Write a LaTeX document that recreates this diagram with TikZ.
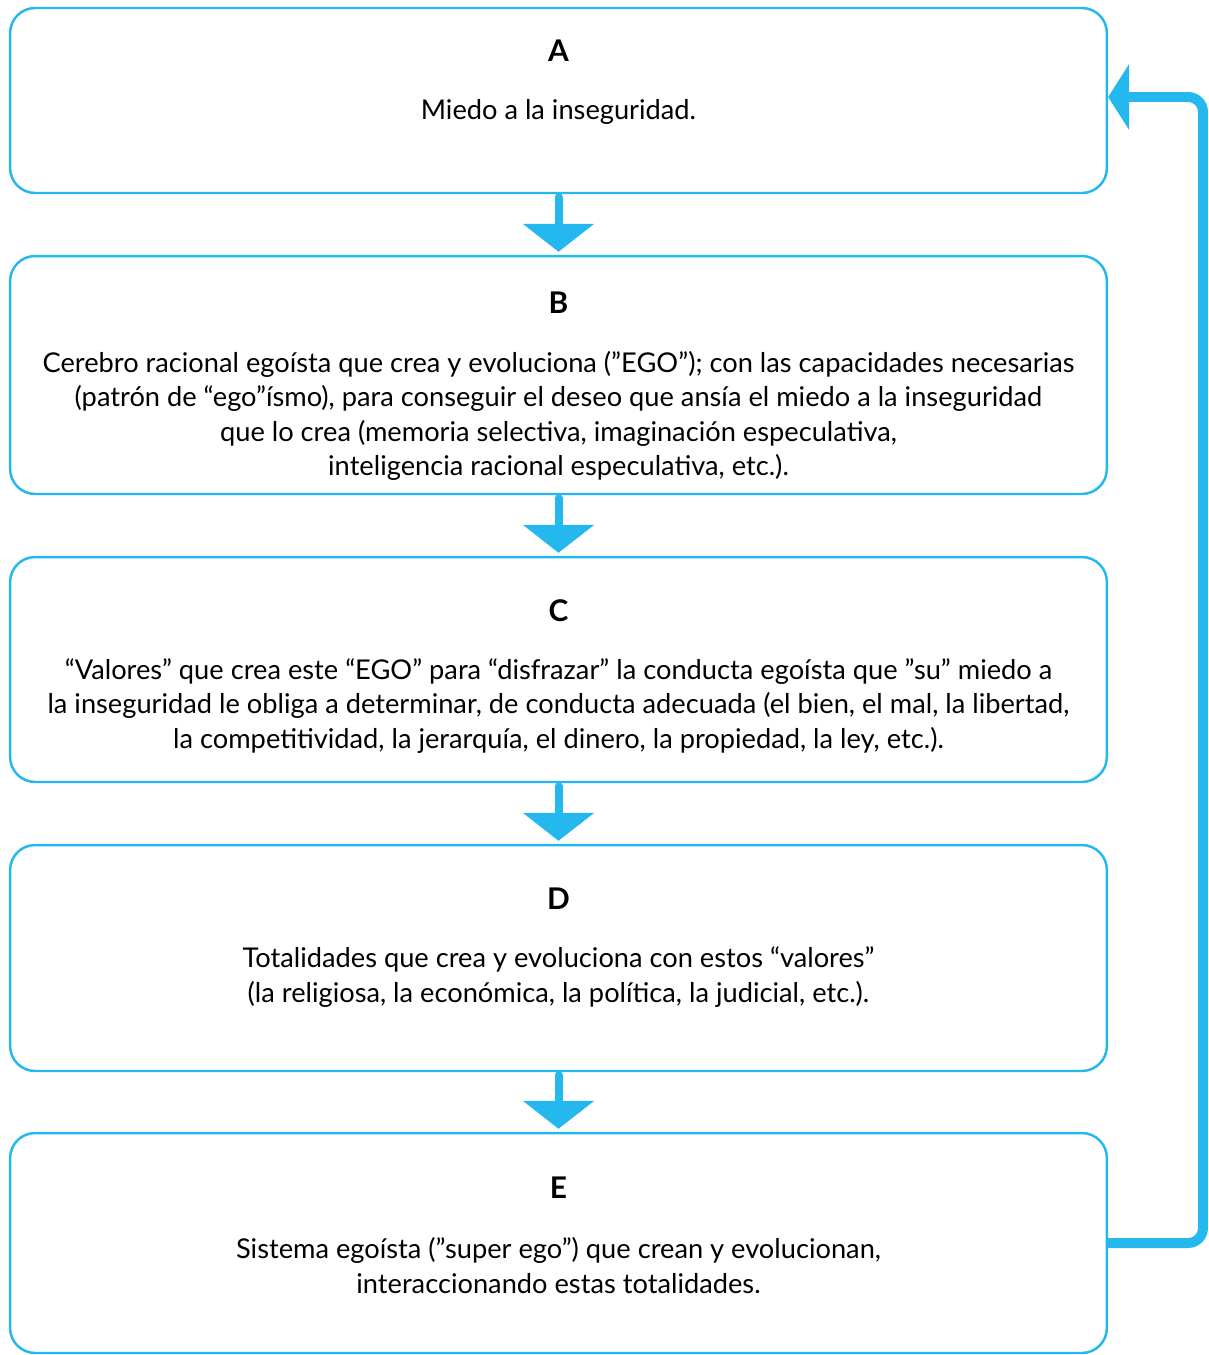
\documentclass[tikz,border=0pt]{standalone}
\usepackage{fontspec}
\setmainfont{Lato}
\usetikzlibrary{arrows.meta, positioning, calc}
\definecolor{celeste}{RGB}{36,184,238}

\tikzset{
    caja/.style={draw=celeste, line width=1.4pt, rounded corners=0.5cm,
        minimum width=21.94cm, inner sep=0pt},
    titulo/.style={font=\fontsize{17}{19.6}\selectfont\bfseries},
    texto/.style={font=\fontsize{15.5}{19.6}\selectfont, align=center},
    flecha/.style={draw=celeste, line width=0.16cm, line cap=round,
        -{Triangle[width=1.4cm, length=0.56cm]}, shorten <=0.06cm, shorten >=0.06cm},
    retorno/.style={draw=celeste, line width=0.2cm, rounded corners=0.3cm,
        -{Triangle[width=1.3cm, length=0.42cm]}}
}

\begin{document}
\begin{tikzpicture}[x=0.02cm, y=-0.02cm]
        \useasboundingbox (0,0) rectangle (1209,1355);

        % cajas
        \node[caja, minimum height=3.7cm] (boxA) at (558.5,100.5) {};
        \node[caja, minimum height=4.76cm] (boxB) at (558.5,375) {};
        \node[caja, minimum height=4.5cm] (boxC) at (558.5,669.5) {};
        \node[caja, minimum height=4.52cm] (boxD) at (558.5,958) {};
        \node[caja, minimum height=4.4cm] (boxE) at (558.5,1243) {};

        % titulos
        \node[titulo] (tA) at (558.5,51) {A};
        \node[titulo] (tB) at (558.5,303) {B};
        \node[titulo] (tC) at (558.5,611) {C};
        \node[titulo] (tD) at (558.5,899) {D};
        \node[titulo] (tE) at (558.5,1188) {E};

        % textos
        \node[texto] (xA) at (558.5,112) {Miedo a la inseguridad.};
        \node[texto] (xB) at (558.5,416) {Cerebro racional egoísta que crea y evoluciona (”EGO”); con las capacidades necesarias\\
            (patrón de “ego”ísmo), para conseguir el deseo que ansía el miedo a la inseguridad\\
            que lo crea (memoria selectiva, imaginación especulativa,\\
            inteligencia racional especulativa, etc.).};
        \node[texto] (xC) at (558.5,706) {“Valores” que crea este “EGO” para “disfrazar” la conducta egoísta que ”su” miedo a\\
            la inseguridad le obliga a determinar, de conducta adecuada (el bien, el mal, la libertad,\\
            la competitividad, la jerarquía, el dinero, la propiedad, la ley, etc.).};
        \node[texto] (xD) at (558.5,977) {Totalidades que crea y evoluciona con estos “valores”\\
            (la religiosa, la económica, la política, la judicial, etc.).};
        \node[texto] (xE) at (558.5,1265.5) {Sistema egoísta (”super ego”) que crean y evolucionan,\\
            interaccionando estas totalidades.};

        % flechas
        \draw[flecha] (boxA) -- (boxB);
        \draw[flecha] (boxB) -- (boxC);
        \draw[flecha] (boxC) -- (boxD);
        \draw[flecha] (boxD) -- (boxE);

        % vuelta de E a A
        \coordinate (vuelta) at (1203,0);
        \draw[retorno] (boxE.east) -- (boxE.east -| vuelta)
            -- ([yshift=0.07cm]boxA.east -| vuelta) -- ([yshift=0.07cm]boxA.east);
    \end{tikzpicture}
\end{document}
